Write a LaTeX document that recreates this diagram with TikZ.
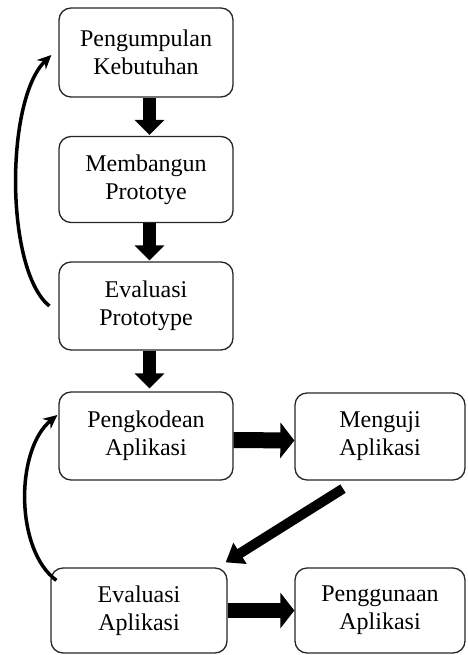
\documentclass[tikz,border=0pt]{standalone}
\usepackage{fontspec}
\setmainfont{Liberation Serif}
\usetikzlibrary{arrows.meta}
\begin{document}
\begin{tikzpicture}[x=1pt,y=-1pt,
  box/.style={draw=black!85, line width=1.3pt, rounded corners=12pt,
    minimum width=174pt, minimum height=88pt, align=center,
    font=\fontsize{24}{28}\selectfont, inner sep=0pt},
  vblk/.style={line width=13pt, -{Triangle[width=29pt,length=15pt]}},
  hblk/.style={line width=16pt, -{Triangle[width=35pt,length=14pt]}},
  dblk/.style={line width=10pt, -{Triangle[width=24pt,length=17pt]}},
  loop/.style={line width=3.5pt, -{Stealth[length=14pt,width=13pt]}}]
\useasboundingbox (0,0) rectangle (467,655);

\node[box, minimum height=89pt] (b1) at (146,52.5) {Pengumpulan\\Kebutuhan};
\node[box, minimum height=86pt] (b2) at (146,179.5) {Membangun\\Prototye};
\node[box] (b3) at (146,306) {Evaluasi\\Prototype};
\node[box] (b4) at (146,436) {Pengkodean\\Aplikasi};
\node[box, minimum width=170pt, minimum height=87pt] (m) at (380,436.5) {Menguji\\Aplikasi};
\node[box, minimum width=176pt, minimum height=85pt] (e) at (139,610.5) {Evaluasi\\Aplikasi};
\node[box, minimum width=170pt, minimum height=85pt] (p) at (380,610.5) {Penggunaan\\Aplikasi};

\draw[vblk] ([xshift=3.5pt]b1.south) -- ([xshift=3.5pt,yshift=1pt]b2.north);
\draw[vblk] ([xshift=3.5pt]b2.south) -- ([xshift=3.5pt,yshift=1pt]b3.north);
\draw[vblk] ([xshift=3.5pt]b3.south) -- ([xshift=3.5pt,yshift=3pt]b4.north);
\draw[hblk] ([yshift=-4pt]b4.east) -- ([yshift=-4pt]m.west);
\draw[hblk, line width=15pt] (e.east) -- (p.west);

\coordinate (d1) at ([xshift=-37pt,yshift=-8pt]m.south);
\coordinate (d2) at ([xshift=-2pt,yshift=5pt]e.north east);
\draw[dblk] (d1) -- (d2);

\coordinate (c1s) at ([xshift=-9pt]b3.west);
\coordinate (c1e) at ([xshift=-7pt,yshift=-2.5pt]b1.west);
\draw[loop] (c1s) .. controls (5,270) and (5,100) .. (c1e);

\coordinate (c2s) at ([xshift=6pt,yshift=-13pt]e.north west);
\coordinate (c2e) at ([xshift=-1pt,yshift=21pt]b4.west);
\draw[loop] (c2s) .. controls (15,550) and (15,450) .. (c2e);
\end{tikzpicture}
\end{document}
